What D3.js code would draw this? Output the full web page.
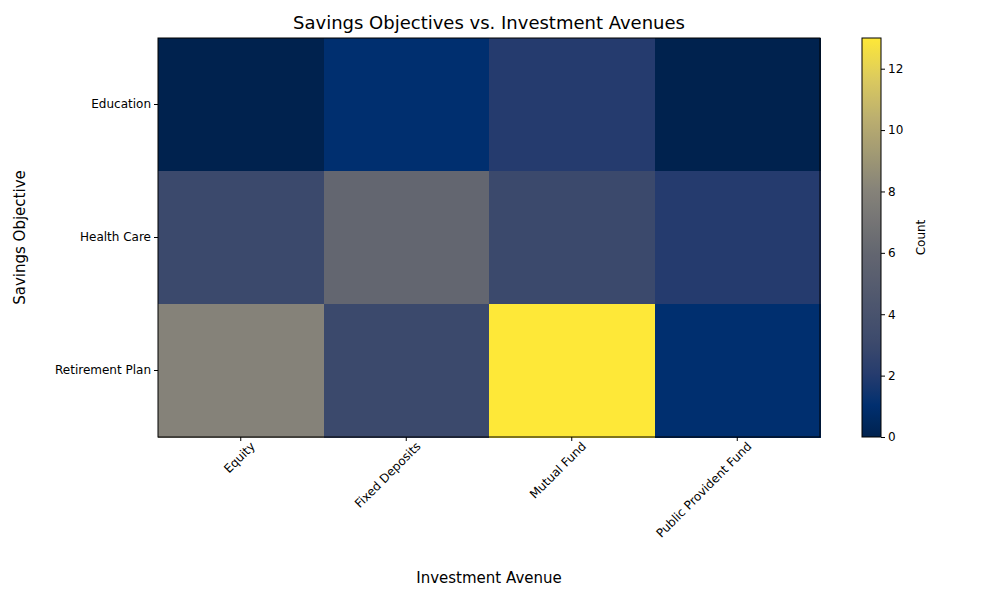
<!DOCTYPE html>
<html><head><meta charset="utf-8">
<script src="https://cdn.jsdelivr.net/npm/d3@7"></script>
<style>body{margin:0;background:#fff;font-family:"DejaVu Sans",sans-serif} svg text{font-family:"DejaVu Sans",sans-serif}</style>
</head><body><svg id="c" width="1000" height="600"></svg>
<script>
const objectives = ["Education","Health Care","Retirement Plan"];
const avenues = ["Equity","Fixed Deposits","Mutual Fund","Public Provident Fund"];
const counts = [
  [0,1,2,0],
  [3,6,3,2],
  [8,3,13,1]
];
const colorTicks = [0,2,4,6,8,10,12];

const svg = d3.select("#c");
const L=158,R=820,T=38,B=437;
const x = d3.scaleBand().domain(avenues).range([L,R]);
const y = d3.scaleBand().domain(objectives).range([T,B]);
const vmax = 13;
const cmapPos = [0,0.077,0.154,0.231,0.46,0.615,0.8,0.9,1];
const cmapCol = ["#00224e","#002f6f","#253b6e","#3b496c","#636670","#858279","#bcaf6f","#dccb5d","#fee838"];
const cm = d3.scaleLinear().domain(cmapPos).range(cmapCol).interpolate(d3.interpolateRgb);
const color = v => cm(v/vmax);

const cells=[];
objectives.forEach((o,i)=>avenues.forEach((a,j)=>cells.push({o,a,v:counts[i][j]})));
svg.selectAll("rect.cell").data(cells).join("rect")
  .attr("x",d=>x(d.a)).attr("y",d=>y(d.o))
  .attr("width",x.bandwidth()+0.5).attr("height",y.bandwidth()+0.5)
  .attr("fill",d=>color(d.v)).attr("shape-rendering","crispEdges");
svg.append("rect").attr("x",L).attr("y",T).attr("width",R-L).attr("height",B-T)
  .attr("fill","none").attr("stroke","#000");

const xa = svg.append("g").attr("transform",`translate(0,${B})`).call(d3.axisBottom(x).tickSizeOuter(0).tickSize(4));
xa.select(".domain").remove();
xa.attr("font-family",null);
xa.selectAll("text").attr("font-size",12).attr("fill","#000")
  .attr("text-anchor","end").attr("dx","0.3em").attr("dy","0.9em")
  .attr("transform","rotate(-45)");
const ya = svg.append("g").attr("transform",`translate(${L},0)`).call(d3.axisLeft(y).tickSizeOuter(0).tickSize(4));
ya.select(".domain").remove();
ya.attr("font-family",null);
ya.selectAll("text").attr("font-size",12).attr("fill","#000");

svg.append("text").attr("x",(L+R)/2).attr("y",29).attr("text-anchor","middle")
  .attr("font-size",18).text("Savings Objectives vs. Investment Avenues");
svg.append("text").attr("x",(L+R)/2).attr("y",583).attr("text-anchor","middle")
  .attr("font-size",15).text("Investment Avenue");
svg.append("text").attr("transform",`translate(25,${(T+B)/2}) rotate(-90)`).attr("text-anchor","middle")
  .attr("font-size",15).text("Savings Objective");

// colorbar
const cx=862,cw=19;
const cy = d3.scaleLinear().domain([0,vmax]).range([B,T]);
const defs=svg.append("defs");
const g=defs.append("linearGradient").attr("id","cg").attr("x1",0).attr("y1",1).attr("x2",0).attr("y2",0);
d3.range(0,1.001,0.02).forEach(t=>g.append("stop").attr("offset",t).attr("stop-color",cm(t)));
svg.append("rect").attr("x",cx).attr("y",T).attr("width",cw).attr("height",B-T).attr("fill","url(#cg)").attr("stroke","#000");
const ca=svg.append("g").attr("transform",`translate(${cx+cw},0)`).call(d3.axisRight(cy).tickValues(colorTicks).tickSize(4));
ca.select(".domain").remove();
ca.attr("font-family",null);
ca.selectAll("text").attr("font-size",12).attr("fill","#000");
svg.append("text").attr("transform",`translate(925,${(T+B)/2}) rotate(-90)`).attr("text-anchor","middle")
  .attr("font-size",12).text("Count");
</script></body></html>
